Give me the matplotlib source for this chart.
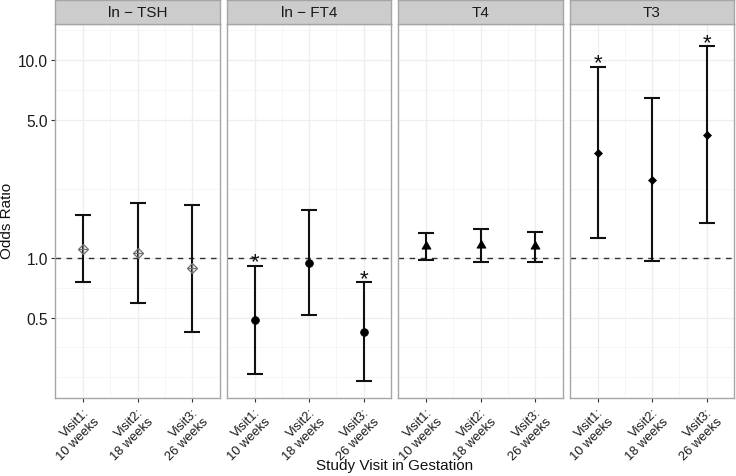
import matplotlib
matplotlib.use('Agg')
import matplotlib.pyplot as plt
from matplotlib.path import Path
import numpy as np

plt.rcParams['font.family'] = ['Liberation Sans', 'DejaVu Sans']

# ---- data ----
panels = ['ln \u2212 TSH', 'ln \u2212 FT4', 'T4', 'T3']
visits = ['Visit1:\n10 weeks', 'Visit2:\n18 weeks', 'Visit3:\n26 weeks']

tsh_or = [1.114, 1.060, 0.887]
tsh_lo = [0.756, 0.595, 0.421]
tsh_hi = [1.654, 1.889, 1.852]
tsh_sig = [False, False, False]

ft4_or = [0.486, 0.943, 0.424]
ft4_lo = [0.259, 0.514, 0.238]
ft4_hi = [0.911, 1.741, 0.756]
ft4_sig = [True, False, True]

t4_or = [1.155, 1.160, 1.155]
t4_lo = [0.974, 0.958, 0.958]
t4_hi = [1.342, 1.406, 1.353]
t4_sig = [False, False, False]

t3_or = [3.40, 2.477, 4.195]
t3_lo = [1.262, 0.966, 1.497]
t3_hi = [9.22, 6.43, 11.73]
t3_sig = [True, False, True]

y_breaks = [0.5, 1.0, 5.0, 10.0]
y_labels = ['0.5', '1.0', '5.0', '10.0']

series = [(tsh_or, tsh_lo, tsh_hi, tsh_sig),
          (ft4_or, ft4_lo, ft4_hi, ft4_sig),
          (t4_or, t4_lo, t4_hi, t4_sig),
          (t3_or, t3_lo, t3_hi, t3_sig)]

# ---- styles ----
tri = Path([(0, 1), (-0.866, -0.5), (0.866, -0.5), (0, 1)],
           [Path.MOVETO, Path.LINETO, Path.LINETO, Path.CLOSEPOLY])
marker_styles = [
    dict(marker='D', ms=5.4, mfc='none', mec='#707070', mew=0.9),
    dict(marker='o', ms=5.6, mfc='black', mec='black', mew=0.5),
    dict(marker=tri, ms=7.6, mfc='black', mec='black', mew=0.5),
    dict(marker='D', ms=3.6, mfc='black', mec='black', mew=0.5),
]

W, H = 736, 477
fig = plt.figure(figsize=(W / 100, H / 100), dpi=100)

left0, step, pw = 55.3, 171.5, 164.5
ptop, pbot = 25, 399
ylo, yhi = 0.1963, 15.2

# minor grid positions: log-midpoints of breaks (extended one step each side)
lb = np.log10(y_breaks)
ext = np.concatenate([[lb[0] - (lb[1] - lb[0])], lb, [lb[-1] + (lb[-1] - lb[-2])]])
minor = 10 ** np.concatenate([(ext[:-1] + ext[1:]) / 2, [ext[0]]])

x = np.arange(1, len(visits) + 1)

for i, (name, (orv, lo, hi, sig)) in enumerate(zip(panels, series)):
    l = left0 + i * step
    ax = fig.add_axes([l / W, 1 - pbot / H, pw / W, (pbot - ptop) / H])
    ax.set_yscale('log')
    ax.set_ylim(ylo, yhi)
    ax.set_xlim(0.49, 3.51)

    # grid
    for v in minor:
        ax.axhline(v, color='#F3F3F3', lw=0.5, zorder=0)
    for v in y_breaks:
        ax.axhline(v, color='#EEEEEE', lw=0.9, zorder=0)
    for v in [1.5, 2.5]:
        ax.axvline(v, color='#F3F3F3', lw=0.5, zorder=0)
    for v in x:
        ax.axvline(v, color='#EEEEEE', lw=0.9, zorder=0)

    ax.axhline(1.0, color='#333333', lw=1.0, ls=(0, (4, 4)), zorder=1)

    orv = np.array(orv); lo = np.array(lo); hi = np.array(hi)
    ax.errorbar(x, orv, yerr=[orv - lo, hi - orv], fmt='none', ecolor='#111111',
                elinewidth=1.5, capsize=5.8, capthick=1.5, zorder=2)
    ax.plot(x, orv, ls='none', zorder=3, **marker_styles[i])
    if i == 0:
        ax.plot(x, orv, ls='none', marker='+', ms=7.6, mec='#707070', mew=0.9, zorder=3)

    for xi, h, s in zip(x, hi, sig):
        if s:
            ax.annotate('*', (xi, h), xytext=(0, -1.2), textcoords='offset points',
                        ha='center', va='baseline', fontsize=16, color='#111111')

    ax.set_xticks(x)
    ax.set_xticklabels(visits, rotation=45, ha='right', va='top',
                       rotation_mode='anchor', fontsize=9.3, color='#1a1a1a',
                       multialignment='right')
    ax.tick_params(axis='x', length=3, width=0.8, color='#333333', pad=2.5)
    ax.yaxis.set_minor_locator(matplotlib.ticker.NullLocator())
    if i == 0:
        ax.set_yticks(y_breaks)
        ax.set_yticklabels(y_labels, fontsize=11.2, color='#1a1a1a')
        ax.tick_params(axis='y', length=3, width=0.8, color='#333333', pad=2)
    else:
        ax.set_yticks([])
    for sp in ax.spines.values():
        sp.set_color('#A6A6A6')
        sp.set_linewidth(1.0)

    # strip
    sax = fig.add_axes([l / W, 1 - ptop / H, pw / W, (ptop - 1) / H])
    sax.set_facecolor('#CCCCCC')
    sax.set_xticks([]); sax.set_yticks([])
    for sp in sax.spines.values():
        sp.set_color('#A6A6A6')
        sp.set_linewidth(1.0)
    sax.text(0.5, 0.5, name, ha='center', va='center', fontsize=11,
             color='#1a1a1a', transform=sax.transAxes)

fig.text(7.5 / W, 1 - 221 / H, 'Odds Ratio', rotation=90, ha='center', va='center',
         fontsize=11, color='#111111')
xmid = (left0 + left0 + 3 * step + pw) / 2
fig.text(xmid / W, 1 - 466.5 / H, 'Study Visit in Gestation', ha='center', va='center',
         fontsize=11, color='#111111')

fig.savefig('out.png', dpi=100)
